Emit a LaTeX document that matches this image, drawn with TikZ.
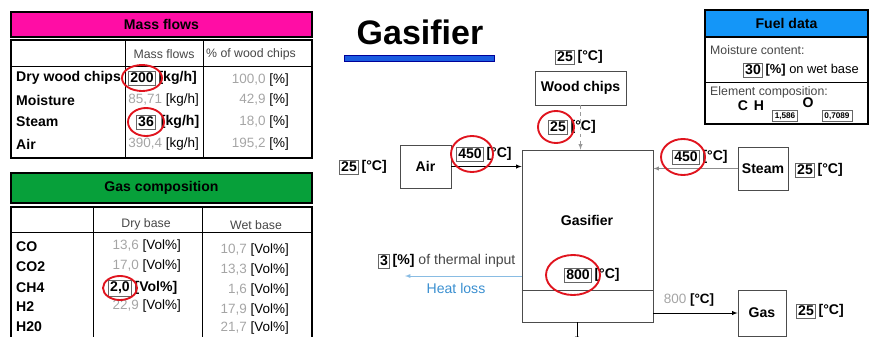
\documentclass[tikz,border=0pt]{standalone}
\usepackage{fontspec}
\setmainfont{Liberation Sans}
\usepackage{xcolor}
\definecolor{massPink}{HTML}{FF0DA5}
\definecolor{gasGreen}{HTML}{07A03A}
\definecolor{fuelBlue}{HTML}{1496F8}
\definecolor{titleBlue}{HTML}{1A5CE0}
\definecolor{lossBlue}{HTML}{3A8FD0}
\definecolor{ringRed}{HTML}{E0141E}
\definecolor{valGray}{RGB}{165,165,165}
\definecolor{darkgray}{RGB}{70,70,70}

\begin{document}
\begin{tikzpicture}[x=0.03cm, y=-0.03cm,
    font=\fontsize{11.5}{13}\selectfont,
    hdr/.style={draw=black, fill=#1, line width=1.2pt, minimum width=9.03cm,
                font=\fontsize{12}{14}\selectfont\bfseries},
    block/.style={draw=black!70, fill=white, line width=0.7pt,
                  font=\fontsize{12}{14}\selectfont\bfseries},
    valbox/.style={draw=black!60, fill=white, line width=0.6pt, inner sep=1.6pt,
                   font=\fontsize{12}{14}\selectfont\bfseries},
    unit/.style={anchor=west, inner sep=2pt, font=\fontsize{12}{14}\selectfont\bfseries},
    rowlabel/.style={anchor=west, inner sep=0pt, font=\fontsize{12}{14}\selectfont\bfseries},
    cell/.style={anchor=east, inner sep=0pt},
    colhead/.style={font=\fontsize{10.5}{12}\selectfont, text=darkgray},
    ring/.style={draw=ringRed, line width=1.6pt},
    flow/.style={draw=black, line width=0.6pt, ->, >=latex},
]
\useasboundingbox (0,0) rectangle (872,336);

% Mass flows
\node[hdr=massPink, minimum height=0.75cm] (mhead) at (161.5,24.5) {Mass flows};
\draw[line width=1.2pt] (11,40) rectangle (312,158);
\draw[line width=0.7pt] (125,40) -- (125,158) (203,40) -- (203,158) (11,66) -- (312,66);
\node[colhead] (mh1) at (164,54) {Mass flows};
\node[colhead] (mh2) at (251,54) {\% of wood chips};

\node[rowlabel] (mdryl) at (16,78) {Dry wood chips};
\node[rowlabel] (mmoil) at (16,100) {Moisture};
\node[rowlabel] (msteaml) at (16,122) {Steam};
\node[rowlabel] (mairl) at (16,144) {Air};

\node[valbox] (mdry) at (142,78) {200};
\node[unit] (mdryu) at (mdry.east) {[kg/h]};
\node[cell] (mmoi) at (199,100) {\textcolor{valGray}{85,71} [kg/h]};
\node[valbox] (msteam) at (146,122) {36};
\node[unit, xshift=2pt] (msteamu) at (msteam.east) {[kg/h]};
\node[cell] (mair) at (199,144) {\textcolor{valGray}{390,4} [kg/h]};

\node[cell] (pdry) at (289,80) {\textcolor{valGray}{100,0} [\%]};
\node[cell] (pmoi) at (289,100) {\textcolor{valGray}{42,9} [\%]};
\node[cell] (psteam) at (289,122) {\textcolor{valGray}{18,0} [\%]};
\node[cell] (pair) at (289,144) {\textcolor{valGray}{195,2} [\%]};

% Gas composition
\node[hdr=gasGreen, minimum height=0.9cm] (ghead) at (161.5,188) {Gas composition};
\draw[line width=1.2pt] (11,345) -- (11,207) -- (312,207) -- (312,345);
\draw[line width=0.7pt] (93,207) -- (93,345) (202,207) -- (202,345) (11,232) -- (312,232);
\node[colhead] (gh1) at (146,224) {Dry base};
\node[colhead] (gh2) at (256,225) {Wet base};

\node[rowlabel] (gcol) at (16,247) {CO};
\node[rowlabel] (gco2l) at (16,267) {CO2};
\node[rowlabel] (gch4l) at (16,288) {CH4};
\node[rowlabel] (gh2l) at (16,307) {H2};
\node[rowlabel] (gh2ol) at (16,327) {H20};

\node[cell] (dco) at (181,246) {\textcolor{valGray}{13,6} [Vol\%]};
\node[cell] (dco2) at (181,266) {\textcolor{valGray}{17,0} [Vol\%]};
\node[valbox] (dch4) at (120,288) {2,0};
\node[unit] (dch4u) at (dch4.east) {[Vol\%]};
\node[cell] (dh2) at (181,306) {\textcolor{valGray}{22,9} [Vol\%]};

\node[cell] (wco) at (289,250) {\textcolor{valGray}{10,7} [Vol\%]};
\node[cell] (wco2) at (289,270) {\textcolor{valGray}{13,3} [Vol\%]};
\node[cell] (wch4) at (289,290) {\textcolor{valGray}{1,6} [Vol\%]};
\node[cell] (wh2) at (289,310) {\textcolor{valGray}{17,9} [Vol\%]};
\node[cell] (wh2o) at (289,328) {\textcolor{valGray}{21,7} [Vol\%]};

% Title
\node[font=\fontsize{29}{32}\selectfont\bfseries] (title) at (420,32) {Gasifier};
\draw[draw=blue!60!black, fill=titleBlue, line width=0.5pt] (344,55) rectangle (494,61);

% Fuel data
\node[hdr=fuelBlue, minimum width=4.89cm, minimum height=0.81cm] (fhead) at (786.5,23.5) {Fuel data};
\draw[line width=1.2pt] (705,37) rectangle (868,124);
\draw[line width=0.7pt] (705,82) -- (868,82);
\node[anchor=west, inner sep=0pt, colhead] (fmoist) at (710,50) {Moisture content:};
\node[valbox] (fmval) at (753,70) {30};
\node[unit, font=\fontsize{11}{13}\selectfont\bfseries] (fmunit) at (fmval.east) {[\%] \mdseries on wet base};
\node[anchor=west, inner sep=0pt, colhead] (felem) at (710,92) {Element composition:};
\node[font=\fontsize{12}{14}\selectfont\bfseries] (fc) at (743,106) {C};
\node[font=\fontsize{12}{14}\selectfont\bfseries] (fh) at (759,106) {H};
\node[valbox, inner sep=2pt, font=\fontsize{7}{8}\selectfont\bfseries] (fhsub) at (785,116) {1,586};
\node[font=\fontsize{12}{14}\selectfont\bfseries] (fo) at (808,103) {O};
\node[valbox, inner sep=2pt, font=\fontsize{7}{8}\selectfont\bfseries] (fosub) at (837,116) {0,7089};

% Wood chips
\node[valbox] (woodT) at (565,57) {25};
\node[unit] (woodTu) at (woodT.east) {[°C]};
\node[block, minimum width=2.73cm, minimum height=1.02cm] (wood) at (580.5,88) {Wood chips};
\node[valbox] (woodin) at (558,127) {25};
\node[unit] (woodinu) at (woodin.east) {[°C]};

% Gasifier
\node[block, minimum width=3.93cm, minimum height=5.16cm] (gasifier) at (587.5,236) {};
\node[font=\fontsize{12}{14}\selectfont\bfseries] (gasname) at (587,220) {Gasifier};
\draw[line width=0.7pt, black!70] ([yshift=0.96cm]gasifier.south west) -- ([yshift=0.96cm]gasifier.south east);
\node[valbox] (gasT) at (578,275) {800};
\node[unit] (gasTu) at (gasT.east) {[°C]};

% Air
\node[valbox] (airT) at (349,167) {25};
\node[unit] (airTu) at (airT.east) {[°C]};
\node[block, minimum width=1.53cm, minimum height=1.29cm] (air) at (425.5,166.5) {Air};
\node[valbox] (airout) at (470,154) {450};
\node[unit] (airoutu) at (airout.east) {[°C]};

% Steam
\node[block, minimum width=1.5cm, minimum height=1.29cm] (steam) at (763,168.5) {Steam};
\node[valbox] (steamT) at (805,170) {25};
\node[unit] (steamTu) at (steamT.east) {[°C]};
\node[valbox] (steamout) at (686,157) {450};
\node[unit] (steamoutu) at (steamout.east) {[°C]};

% Gas
\node[block, minimum width=1.44cm, minimum height=1.38cm] (gas) at (762,313) {Gas};
\node[valbox] (gasoutT) at (806,311) {25};
\node[unit] (gasoutTu) at (gasoutT.east) {[°C]};
\node[inner sep=0pt] (gastemp) at (689,300) {\textcolor{valGray}{800} \textbf{[°C]}};

% Heat loss
\coordinate (hlend) at (405,276);
\coordinate (out) at (577,342);
\node[valbox] (lossval) at (384,261) {3};
\node[unit] (lossu) at (lossval.east) {[\%] \mdseries\textcolor{darkgray}{of thermal input}};
\node[text=lossBlue, font=\fontsize{12}{14}\selectfont] (losslbl) at (456,288) {Heat loss};

% Connectors
\draw[flow] (air.east) -- (air.east -| gasifier.west);
\draw[flow, draw=black!45] (steam.west) -- (steam.west -| gasifier.east);
\draw[flow, dashed, draw=black!40] (wood.south) -- (wood.south |- gasifier.north);
\draw[flow] (gasifier.east |- gas.west) -- (gas.west);
\draw[flow, draw=lossBlue!60] (gasifier.west |- hlend) -- (hlend);
\draw[flow] (gasifier.south -| out) -- (out);

% Rings
\draw[ring] (mdry) ellipse (20 and 13);
\draw[ring] (msteam) ellipse (18 and 14);
\draw[ring] (dch4) ellipse (17 and 12);
\draw[ring] ([xshift=-0.06cm]woodin.center) ellipse (18 and 16);
\draw[ring] ([xshift=0.06cm]airout.center) ellipse (21 and 18);
\draw[ring] ([xshift=-0.09cm]steamout.center) ellipse (22 and 18);
\draw[ring] ([xshift=-0.15cm]gasT.center) ellipse (27 and 20);
\end{tikzpicture}
\end{document}
